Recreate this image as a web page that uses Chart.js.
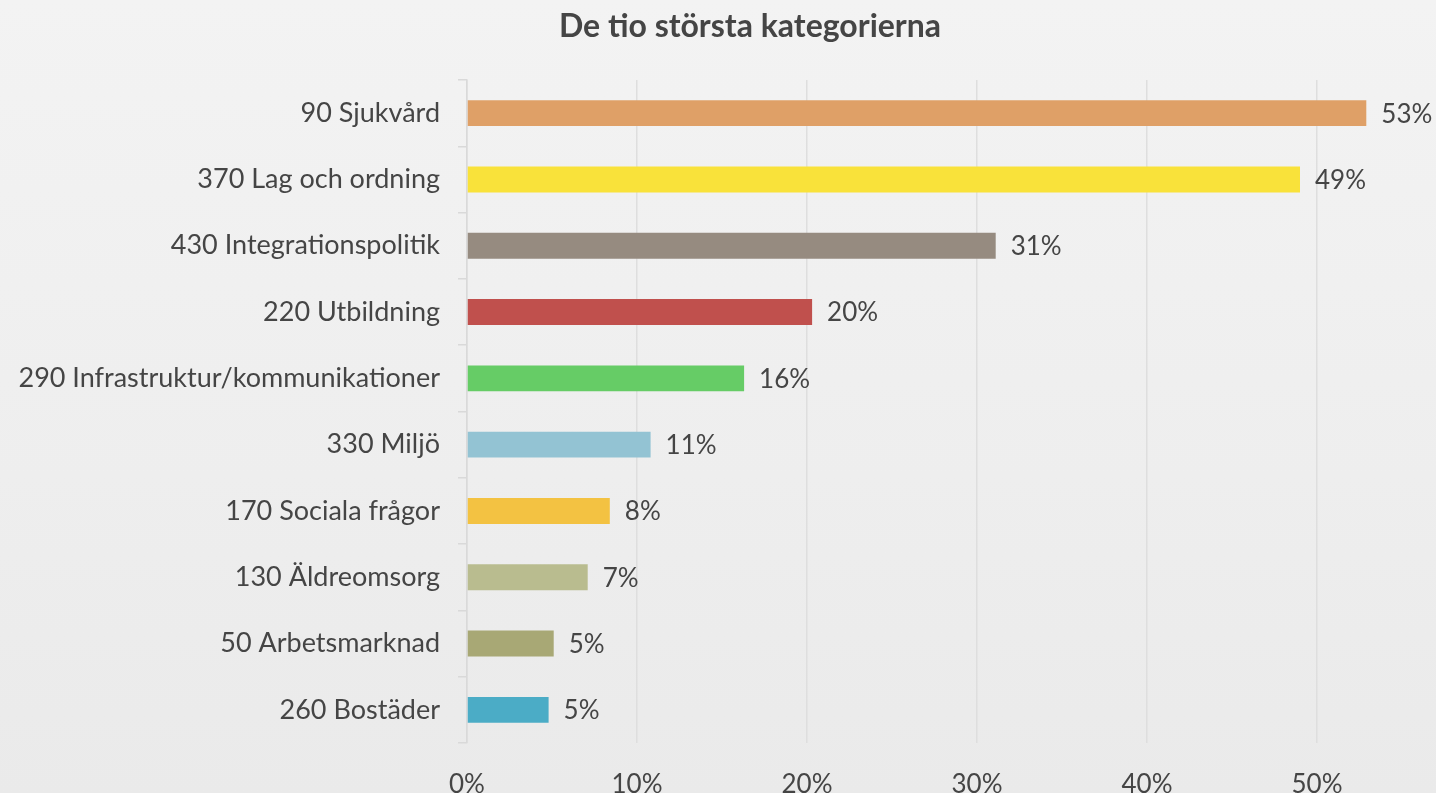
<!DOCTYPE html>
<html>
<head>
<meta charset="utf-8">
<script src="https://cdn.jsdelivr.net/npm/chart.js@4"></script>
<style>
  html, body { margin: 0; padding: 0; }
  body {
    width: 1436px; height: 793px; overflow: hidden;
    background: linear-gradient(180deg, #f3f3f3 0%, #eeeeee 60%, #eaeaea 100%);
  }
  #wrap { width: 1436px; height: 793px; position: relative; }
</style>
</head>
<body>
<div id="wrap"><canvas id="chart"></canvas></div>
<script>
// De tio största kategorierna (andel, %)
const categories = [
  '90 Sjukvård',
  '370 Lag och ordning',
  '430 Integrationspolitik',
  '220 Utbildning',
  '290 Infrastruktur/kommunikationer',
  '330 Miljö',
  '170 Sociala frågor',
  '130 Äldreomsorg',
  '50 Arbetsmarknad',
  '260 Bostäder'
];
const shares = [52.9, 49.0, 31.1, 20.3, 16.3, 10.8, 8.4, 7.1, 5.1, 4.8];
const barColors = [
  '#dfa067', '#f9e23a', '#968b80', '#c0504d', '#66cc66',
  '#93c3d3', '#f3c242', '#b9bc8f', '#a8a875', '#4bacc6'
];
const xTicks = [0, 10, 20, 30, 40, 50];
const titleText = 'De tio största kategorierna';

const textColor = '#454545';
const fontName = 'Lato, "Open Sans", sans-serif';

// title sits a bit right of the canvas centre, like the original
const chartTitle = {
  id: 'chartTitle',
  afterDraw(chart) {
    const ctx = chart.ctx;
    ctx.save();
    ctx.font = 'bold 32px ' + fontName;
    ctx.fillStyle = textColor;
    ctx.textAlign = 'center';
    ctx.textBaseline = 'middle';
    ctx.fillText(titleText, 750, 27);
    ctx.restore();
  }
};

// percent labels to the right of each bar
const valueLabels = {
  id: 'valueLabels',
  afterDatasetsDraw(chart) {
    const ctx = chart.ctx;
    const meta = chart.getDatasetMeta(0);
    ctx.save();
    ctx.font = '26px ' + fontName;
    ctx.fillStyle = textColor;
    ctx.textAlign = 'left';
    ctx.textBaseline = 'middle';
    meta.data.forEach((bar, i) => {
      ctx.fillText(Math.round(shares[i]) + '%', bar.x + 15, bar.y + 1);
    });
    ctx.restore();
  }
};

new Chart(document.getElementById('chart'), {
  type: 'bar',
  data: {
    labels: categories,
    datasets: [{
      data: shares,
      backgroundColor: barColors,
      borderWidth: 0,
      barPercentage: 0.39,
      categoryPercentage: 1
    }]
  },
  options: {
    indexAxis: 'y',
    responsive: true,
    maintainAspectRatio: false,
    animation: false,
    layout: { padding: { left: 0, right: 0, top: 80, bottom: 0 } },
    plugins: {
      legend: { display: false },
      tooltip: { enabled: false },
      title: { display: false }
    },
    scales: {
      x: {
        min: 0,
        max: 57,
        afterBuildTicks(scale) {
          scale.ticks = xTicks.map(v => ({ value: v }));
        },
        afterFit(scale) { scale.height = 50; },
        ticks: {
          color: textColor,
          font: { family: fontName, size: 26 },
          padding: 26,
          callback: v => v + '%'
        },
        grid: { color: '#dedede', lineWidth: 1.5, drawTicks: false },
        border: { display: false }
      },
      y: {
        afterFit(scale) { scale.width = 467; },
        ticks: {
          color: textColor,
          font: { family: fontName, size: 27 },
          padding: 18
        },
        grid: {
          offset: true,
          drawOnChartArea: false,
          drawTicks: true,
          tickLength: 9,
          color: '#d9d9d9',
          lineWidth: 1.5
        },
        border: { display: true, color: '#d9d9d9', width: 1.5 }
      }
    }
  },
  plugins: [valueLabels, chartTitle]
});
</script>
</body>
</html>
